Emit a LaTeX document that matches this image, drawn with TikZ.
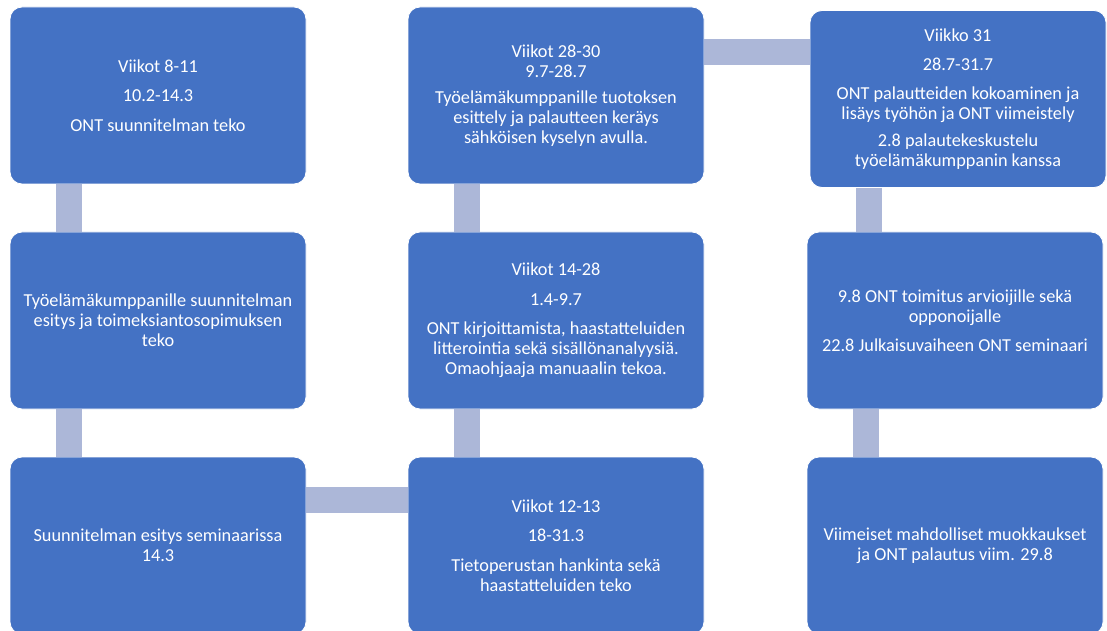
\documentclass[tikz,border=0pt]{standalone}
\usepackage{fontspec}
\setmainfont{Carlito}
\usetikzlibrary{calc}

\definecolor{boxblue}{RGB}{68,114,196}
\definecolor{linkblue}{RGB}{172,183,216}

\tikzset{
  box/.style={draw=white, line width=0.6pt, fill=boxblue, rounded corners=9pt,
    minimum width=222pt, minimum height=132.75pt, align=center, text=white,
    font=\fontsize{13.7}{15}\selectfont},
  link/.style={draw=linkblue, line width=19.5pt}
}

\begin{document}
\begin{tikzpicture}[x=0.75pt,y=-0.75pt]
                \useasboundingbox (0,0) rectangle (1107,631);
                % Draw the first column
                \node[box] (b1) at (158,95.5) {Viikot 8-11\\[7pt]10.2-14.3\\[7pt]ONT suunnitelman teko};
                \node[box] (b2) at (158,320.5) {Työelämäkumppanille suunnitelman\\esitys ja toimeksiantosopimuksen\\teko};
                \node[box] (b3) at (158,545.5) {Suunnitelman esitys seminaarissa\\14.3};
                % Draw the second column
                \node[box] (b4) at (556,545.5) {Viikot 12-13\\[7pt]18-31.3\\[7pt]Tietoperustan hankinta sekä\\haastatteluiden teko};
                \node[box] (b5) at (556,320.5) {Viikot 14-28\\[7pt]1.4-9.7\\[7pt]ONT kirjoittamista, haastatteluiden\\litterointia sekä sisällönanalyysiä.\\Omaohjaaja manuaalin tekoa.};
                \node[box] (b6) at (556,95.5) {Viikot 28-30\\9.7-28.7\\[5pt]Työelämäkumppanille tuotoksen\\esittely ja palautteen keräys\\sähköisen kyselyn avulla.};
                % Draw the third column
                \node[box] (b7) at (958,99) {Viikko 31\\[7pt]28.7-31.7\\[7pt]ONT palautteiden kokoaminen ja\\lisäys työhön ja ONT viimeistely\\[5pt]2.8 palautekeskustelu\\työelämäkumppanin kanssa};
                \node[box] (b8) at (955,320.5) {9.8 ONT toimitus arvioijille sekä\\opponoijalle\\[7pt]22.8 Julkaisuvaiheen ONT seminaari};
                \node[box] (b9) at (955,545.5) {Viimeiset mahdolliset muokkaukset\\ja ONT palautus viim. 29.8};
                % Draw the vertical bars (upper box / lower box)
                \foreach \a/\b in {b1/b2, b2/b3, b6/b5, b5/b4, b7/b8, b8/b9}{
                    \draw[link] ($(\a.south west)!0.2!(\a.south east)$) coordinate (v) -- (v |- \b.north);
                }
                % Draw the horizontal bars
                \draw[link] ($(b3.north east)+(0,43)$) coordinate (h1) -- (h1 -| b4.west);
                \draw[link] ($(b6.north east)+(0,45)$) coordinate (h2) -- (h2 -| b7.west);
            \end{tikzpicture}
\end{document}
